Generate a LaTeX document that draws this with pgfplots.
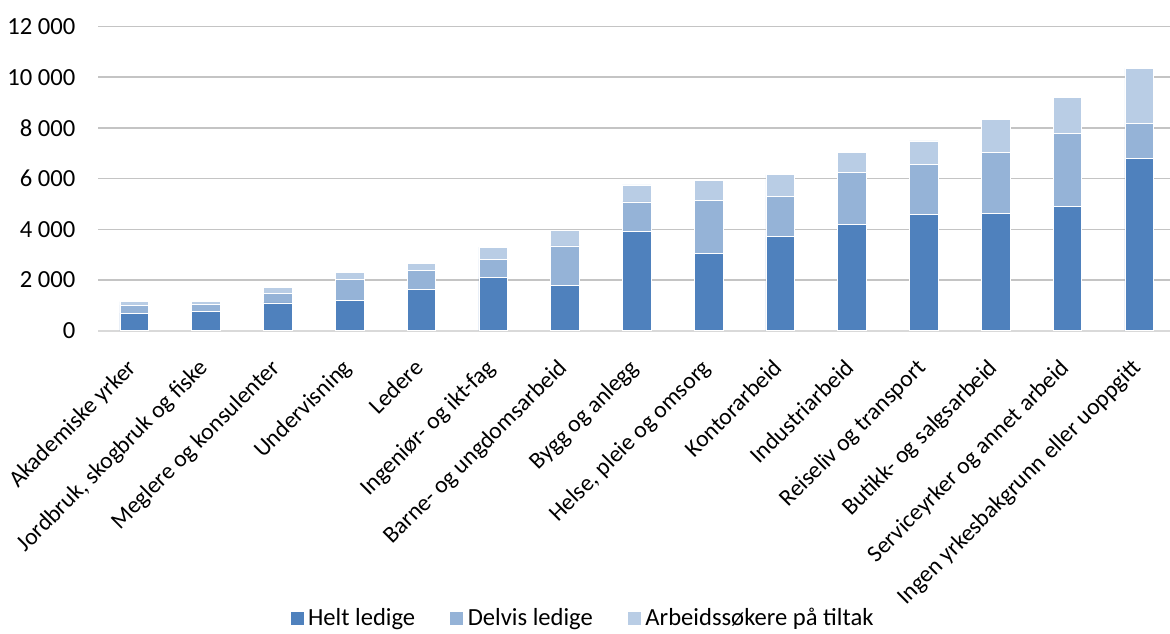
\documentclass[border=0pt]{standalone}
\usepackage{pgfplots}
\pgfplotsset{compat=1.18}
\usepackage{pgfplotstable}
\usepackage{fontspec}
\setmainfont{Carlito}

\definecolor{helt}{HTML}{4F81BD}
\definecolor{delvis}{HTML}{95B3D7}
\definecolor{tiltak}{HTML}{B9CDE5}
\definecolor{gridgray}{HTML}{C4C4C4}

% ledige etter yrkesbakgrunn
\pgfplotstableread{
x helt delvis tiltak
0 690 315 145
1 770 275 120
2 1100 365 250
3 1190 835 260
4 1635 745 275
5 2105 705 485
6 1790 1555 615
7 3920 1165 665
8 3045 2080 810
9 3710 1585 860
10 4180 2080 760
11 4575 1975 940
12 4625 2420 1305
13 4915 2875 1400
14 6795 1385 2170
}\data

\begin{document}
\begin{tikzpicture}[font=\fontsize{12.3}{14.8}\selectfont]
\begin{axis}[
	scale only axis,
	width=535.8pt, height=152.1pt,
	ybar stacked, bar width=0.4,
	xmin=-0.5, xmax=14.43,
	ymin=0, ymax=12000,
	ytick={0,2000,...,12000},
	scaled y ticks=false,
	yticklabel style={xshift=-8pt, /pgf/number format/1000 sep={\ }, /pgf/number format/assume math mode=true},
	xtick=data,
	xticklabels={Akademiske yrker, {Jordbruk, skogbruk og fiske}, Meglere og konsulenter, Undervisning, Ledere, Ingeniør- og ikt-fag, Barne- og ungdomsarbeid, Bygg og anlegg, {Helse, pleie og omsorg}, Kontorarbeid, Industriarbeid, Reiseliv og transport, Butikk- og salgsarbeid, Serviceyrker og annet arbeid, Ingen yrkesbakgrunn eller uoppgitt},
	xticklabel style={font=\fontsize{11.8}{14}\selectfont, rotate=45, anchor=north east, xshift=-9pt, yshift=-3pt},
	major tick length=0pt,
	tick style={draw=none},
	ymajorgrids,
	grid style={gridgray, line width=0.8pt},
	axis lines*=left,
	separate axis lines,
	x axis line style={draw=black!15, line width=1pt},
	y axis line style={draw=none},
	legend style={at={(0.4527,-0.945)}, anchor=center, draw=none, fill=none,
		legend columns=-1,
		/tikz/every even column/.append style={column sep=15pt}},
	sq/.style={legend image code/.code={\fill[##1] (0pt,-3.5pt) rectangle (7pt,3.5pt);}},
]
	\addplot[fill=helt, draw=white, line width=0.3pt, sq] table[x=x, y=helt] {\data};
	\addplot[fill=delvis, draw=white, line width=0.3pt, sq] table[x=x, y=delvis] {\data};
	\addplot[fill=tiltak, draw=white, line width=0.3pt, sq] table[x=x, y=tiltak] {\data};
	\legend{Helt ledige, Delvis ledige, Arbeidssøkere på tiltak}
\end{axis}
\pgfresetboundingbox
\path ([xshift=-49.2pt, yshift=-151.15pt]current axis.south west) rectangle ([yshift=13.25pt]current axis.north east);
\end{tikzpicture}
\end{document}
